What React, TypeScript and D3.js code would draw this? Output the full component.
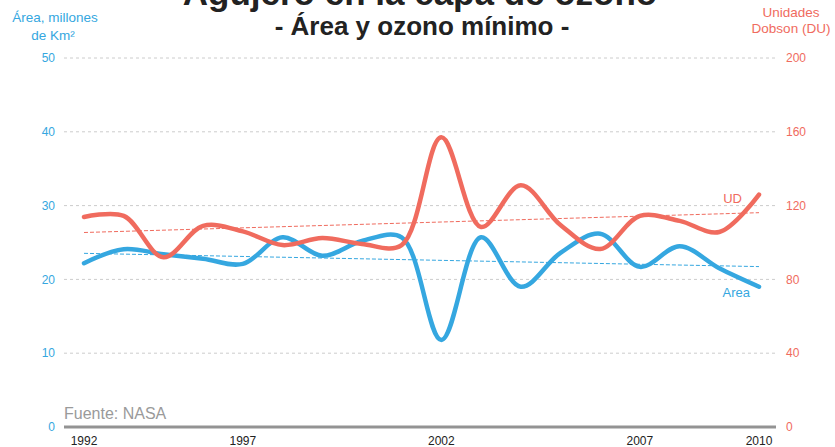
import React from 'react';
import * as d3 from 'd3';

// años con dato (1995 sin medición)
const years = [1992, 1993, 1994, 1996, 1997, 1998, 1999, 2000, 2001, 2002, 2003, 2004, 2005, 2006, 2007, 2008, 2009, 2010];
// área del agujero, millones de km²
const area = [22.2, 24.1, 23.4, 22.8, 22.1, 25.7, 23.2, 25.2, 25.7, 11.8, 25.7, 19.0, 23.6, 26.2, 21.7, 24.5, 21.5, 19.0];
// ozono mínimo, unidades Dobson
const ozone = [113.8, 114.4, 92, 109, 106, 98.6, 102.4, 99.2, 98.6, 157, 108.4, 131, 109.5, 96.5, 114.4, 111.7, 105.7, 126];
const yearLabels = [1992, 1997, 2002, 2007, 2010];
const areaTicks = [0, 10, 20, 30, 40, 50];
const duTicks = [0, 40, 80, 120, 160, 200];

const W = 835;
const H = 447;
const BLUE = '#35a7e0';
const RED = '#f06b5e';
const FONT = '"Liberation Sans", Arial, sans-serif';

// recta de regresión simple
function trend(vals: number[]) {
  const xs = vals.map((_, i) => i);
  const mx = d3.mean(xs) as number;
  const my = d3.mean(vals) as number;
  const num = d3.sum(xs, (x, i) => (x - mx) * (vals[i] - my));
  const den = d3.sum(xs, (x) => (x - mx) * (x - mx));
  const b = num / den;
  const a = my - b * mx;
  return [a, a + b * (vals.length - 1)];
}

const App = () => {
  const x = d3.scalePoint<number>().domain(years).range([84, 759]);
  const yL = d3.scaleLinear().domain([0, 50]).range([427, 58]);
  const yR = d3.scaleLinear().domain([0, 200]).range([427, 58]);

  const lineL = d3.line<number>().x((_, i) => x(years[i]) as number).y((d) => yL(d)).curve(d3.curveCatmullRom.alpha(0.5));
  const lineR = d3.line<number>().x((_, i) => x(years[i]) as number).y((d) => yR(d)).curve(d3.curveCatmullRom.alpha(0.5));

  const tA = trend(area);
  const tO = trend(ozone);
  const x0 = x(years[0]) as number;
  const x1 = x(years[years.length - 1]) as number;

  return (
    <svg width={W} height={H} style={{ position: 'absolute', left: 0, top: 0, background: '#fff' }} fontFamily={FONT}>
      {/* rejilla */}
      {areaTicks.filter((t) => t > 0).map((t) => (
        <line key={t} x1={64} x2={776} y1={yL(t)} y2={yL(t)} stroke="#cccccc" strokeWidth={1} strokeDasharray="3,3" />
      ))}
      {areaTicks.map((t) => (
        <text key={t} x={55} y={yL(t)} dy="0.35em" textAnchor="end" fontSize={12} fill={BLUE}>{t}</text>
      ))}
      {duTicks.map((t) => (
        <text key={t} x={786} y={yR(t)} dy="0.35em" textAnchor="start" fontSize={12} fill={RED}>{t}</text>
      ))}
      <line x1={64} x2={776} y1={427} y2={427} stroke="#939393" strokeWidth={3} />
      {yearLabels.map((yr) => (
        <text key={yr} x={x(yr)} y={445} textAnchor="middle" fontSize={12} fill="#222">{yr}</text>
      ))}

      {/* tendencias */}
      <line x1={x0} x2={x1} y1={yL(tA[0])} y2={yL(tA[1])} stroke={BLUE} strokeWidth={1} strokeDasharray="4,2" />
      <line x1={x0} x2={x1} y1={yR(tO[0])} y2={yR(tO[1])} stroke={RED} strokeWidth={1} strokeDasharray="4,2" />

      <path d={lineL(area) as string} fill="none" stroke={BLUE} strokeWidth={4.5} strokeLinecap="round" />
      <path d={lineR(ozone) as string} fill="none" stroke={RED} strokeWidth={4.5} strokeLinecap="round" />

      <text x={750} y={297} textAnchor="end" fontSize={13} fill={BLUE}>Area</text>
      <text x={742} y={203} textAnchor="end" fontSize={13} fill={RED}>UD</text>

      {/* títulos */}
      <text x={420} y={5} textAnchor="middle" fontSize={35} fontWeight="bold" fill="#222">Agujero en la capa de ozono</text>
      <text x={422} y={35} textAnchor="middle" fontSize={26} fontWeight="bold" fill="#222">- Área y ozono mínimo -</text>

      <text x={55} y={22} textAnchor="middle" fontSize={13.5} fill={BLUE}>Área, millones</text>
      <text x={53} y={40} textAnchor="middle" fontSize={13.5} fill={BLUE}>de Km²</text>
      <text x={791} y={17} textAnchor="middle" fontSize={13.5} fill={RED}>Unidades</text>
      <text x={791} y={33} textAnchor="middle" fontSize={13.5} fill={RED}>Dobson (DU)</text>

      <text x={64} y={419} fontSize={16} fill="#9a9a9a">Fuente: NASA</text>
    </svg>
  );
};

export default App;
